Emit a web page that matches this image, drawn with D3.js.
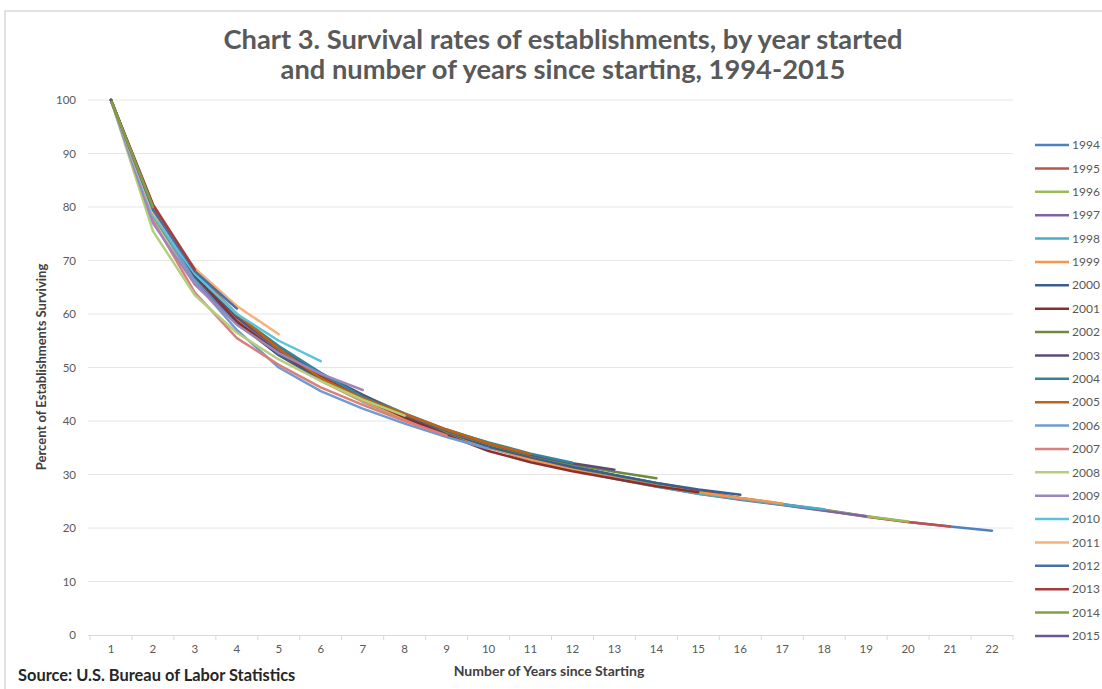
<!DOCTYPE html>
<html>
<head>
<meta charset="utf-8">
<script src="https://cdn.jsdelivr.net/npm/d3@7"></script>
<style>
  html, body { margin: 0; padding: 0; background: #fff; }
  svg { display: block; font-family: Lato, "Liberation Sans", sans-serif; }
</style>
</head>
<body>
<svg id="chart" width="1102" height="689"></svg>
<script>
// ---- data ----
const titleLines = ["Chart 3. Survival rates of establishments, by year started",
                    "and number of years since starting, 1994-2015"];
const yAxisTitle = "Percent of Establishments Surviving";
const xAxisTitle = "Number of Years since Starting";
const sourceText = "Source: U.S. Bureau of Labor Statistics";

const yearsSince = d3.range(1, 23);            // 1..22
const yTicks = [0, 10, 20, 30, 40, 50, 60, 70, 80, 90, 100];
const cohorts = [1994, 1995, 1996, 1997, 1998, 1999, 2000, 2001, 2002, 2003, 2004,
                 2005, 2006, 2007, 2008, 2009, 2010, 2011, 2012, 2013, 2014, 2015];
const colors = ["#4F81BD", "#C0504D", "#9BBB59", "#8064A2", "#4BACC6", "#F79646",
                "#3B5E8C", "#8B2F2D", "#6E8B3D", "#5E4A7A", "#31859C", "#C0620F",
                "#6F9BD2", "#D9807E", "#B3CF7E", "#9C86BC", "#5CC3DA", "#F9B07A",
                "#4670A6", "#A63D3A", "#7FA044", "#6C5590"];

const s1994 = [100, 79.0, 66.8, 59.0, 53.2, 48.6, 44.8, 41.4, 38.4, 35.9, 33.6, 31.6, 29.9, 28.4, 27.0, 25.6, 24.5, 23.4, 22.2, 21.1, 20.3, 19.5];
const s1995 = [100, 78.8, 66.5, 58.6, 52.7, 48.2, 44.4, 41.0, 38.0, 35.5, 33.3, 31.4, 29.8, 28.3, 26.9, 25.5, 24.4, 23.3, 22.1, 21.1, 20.3];
const s1996 = [100, 78.2, 66.0, 58.2, 52.4, 48.0, 44.2, 40.8, 37.8, 35.3, 33.2, 31.3, 29.7, 28.1, 26.6, 25.4, 24.4, 23.3, 22.2, 21.2];
const s1997 = [100, 78.6, 66.4, 58.4, 52.4, 47.8, 43.8, 40.3, 37.5, 35.1, 32.9, 31.0, 29.3, 27.8, 26.4, 25.3, 24.3, 23.2, 22.2];
const s1998 = [100, 78.9, 66.6, 58.6, 52.5, 47.6, 43.6, 40.3, 37.5, 35.0, 32.8, 30.9, 29.2, 27.7, 26.4, 25.4, 24.4, 23.5];
const s1999 = [100, 79.2, 67.0, 58.8, 52.4, 47.5, 43.7, 40.5, 37.7, 35.1, 32.8, 30.9, 29.3, 27.8, 26.7, 25.6, 24.6];
const s2000 = [100, 79.5, 67.0, 58.5, 52.3, 47.8, 44.1, 40.8, 37.9, 35.2, 33.2, 31.4, 29.9, 28.4, 27.2, 26.2];
const s2001 = [100, 80.3, 67.4, 58.6, 52.8, 48.2, 44.3, 40.7, 37.4, 34.4, 32.3, 30.6, 29.2, 27.8, 26.7];
const s2002 = [100, 79.8, 67.6, 59.6, 53.5, 48.9, 44.9, 41.3, 38.0, 35.7, 33.6, 31.9, 30.5, 29.3];
const s2003 = [100, 79.7, 67.6, 59.4, 53.6, 48.9, 44.9, 41.0, 38.2, 35.8, 33.7, 32.1, 30.9];
const s2004 = [100, 79.9, 67.8, 59.8, 54.0, 49.0, 44.5, 41.2, 38.3, 36.0, 33.9, 32.2];
const s2005 = [100, 80.0, 68.0, 60.0, 53.5, 48.0, 44.2, 41.3, 38.4, 35.8, 33.8];
const s2006 = [100, 79.0, 66.0, 57.0, 50.0, 45.6, 42.3, 39.5, 37.0, 34.8];
const s2007 = [100, 77.5, 64.0, 55.5, 50.5, 46.3, 43.0, 40.0, 37.3];
const s2008 = [100, 75.5, 63.5, 56.5, 51.5, 47.5, 44.0, 41.0];
const s2009 = [100, 77.0, 65.5, 58.0, 52.7, 48.8, 45.8];
const s2010 = [100, 78.5, 67.5, 60.0, 55.0, 51.2];
const s2011 = [100, 79.0, 68.5, 61.5, 56.2];
const s2012 = [100, 79.5, 68.0, 61.0];
const s2013 = [100, 80.5, 68.3];
const s2014 = [100, 80.0];
const s2015 = [100];

const seriesValues = [s1994, s1995, s1996, s1997, s1998, s1999, s2000, s2001, s2002, s2003, s2004,
                      s2005, s2006, s2007, s2008, s2009, s2010, s2011, s2012, s2013, s2014, s2015];

// ---- layout ----
const svg = d3.select("#chart");
const plot = { left: 90, right: 1013, top: 100, bottom: 635 };

// outer chart border
svg.append("rect")
  .attr("x", 5).attr("y", 11).attr("width", 1120).attr("height", 700)
  .attr("fill", "#fff").attr("stroke", "#D9D9D9").attr("stroke-width", 1.5);

const x = d3.scaleBand().domain(yearsSince).range([plot.left, plot.right]);
const y = d3.scaleLinear().domain([0, 100]).range([plot.bottom, plot.top]);

// gridlines
svg.append("g").selectAll("line").data(yTicks.filter(d => d > 0)).join("line")
  .attr("x1", plot.left - 2).attr("x2", plot.right)
  .attr("y1", d => y(d)).attr("y2", d => y(d))
  .attr("stroke", "#E6E6E6").attr("stroke-width", 1);

// y labels
const yAxis = d3.axisLeft(y).tickValues(yTicks).tickSize(0).tickPadding(12);
const gy = svg.append("g").attr("transform", `translate(${plot.left - 2},0)`).call(yAxis);
gy.select(".domain").remove();
gy.selectAll("text").attr("fill", "#595959").style("font-size", "11.5px")
  .style("font-family", "Lato, 'Liberation Sans', sans-serif");

// x axis
const xAxis = d3.axisBottom(x).tickSize(0).tickPadding(10);
const gx = svg.append("g").attr("transform", `translate(0,${plot.bottom})`).call(xAxis);
gx.select(".domain").attr("stroke", "#D9D9D9").attr("d", `M${plot.left - 2},0.5H${plot.right}`);
gx.selectAll("text").attr("fill", "#595959").style("font-size", "11.5px")
  .style("font-family", "Lato, 'Liberation Sans', sans-serif");
// tick marks between categories
const bounds = yearsSince.map(d => x(d)).concat([x(22) + x.bandwidth()]);
svg.append("g").selectAll("line").data(bounds).join("line")
  .attr("x1", d => d).attr("x2", d => d)
  .attr("y1", plot.bottom).attr("y2", plot.bottom + 5)
  .attr("stroke", "#D9D9D9");

// lines
const line = d3.line()
  .x((d, i) => x(yearsSince[i]) + x.bandwidth() / 2)
  .y(d => y(d));
svg.append("g").selectAll("path").data(seriesValues).join("path")
  .attr("d", d => line(d))
  .attr("fill", "none")
  .attr("stroke", (d, i) => colors[i])
  .attr("stroke-width", 2.5)
  .attr("stroke-linejoin", "round")
  .attr("stroke-linecap", "round");

// title
svg.append("g").selectAll("text").data(titleLines).join("text")
  .attr("x", 563).attr("y", (d, i) => 49 + i * 30)
  .attr("text-anchor", "middle")
  .attr("fill", "#595959")
  .style("font-size", "27.3px").style("font-weight", "bold")
  .text(d => d);

// axis titles
svg.append("text")
  .attr("transform", "translate(46,367) rotate(-90)")
  .attr("text-anchor", "middle")
  .attr("fill", "#404040")
  .style("font-size", "13px").style("font-weight", "bold")
  .text(yAxisTitle);
svg.append("text")
  .attr("x", 549).attr("y", 676)
  .attr("text-anchor", "middle")
  .attr("fill", "#404040")
  .style("font-size", "14px").style("font-weight", "bold")
  .text(xAxisTitle);

// source
svg.append("text")
  .attr("x", 18).attr("y", 681)
  .attr("fill", "#262626")
  .style("font-size", "16.4px").style("font-weight", "bold")
  .text(sourceText);

// legend
const legend = svg.append("g").selectAll("g").data(cohorts).join("g")
  .attr("transform", (d, i) => `translate(1035,${145 + i * 23.38})`);
legend.append("line")
  .attr("x1", 0).attr("x2", 34).attr("y1", 0).attr("y2", 0)
  .attr("stroke", (d, i) => colors[i]).attr("stroke-width", 2.5);
legend.append("text")
  .attr("x", 37).attr("y", 0).attr("dy", "0.35em")
  .attr("fill", "#595959").style("font-size", "12px")
  .text(d => d);
</script>
</body>
</html>
